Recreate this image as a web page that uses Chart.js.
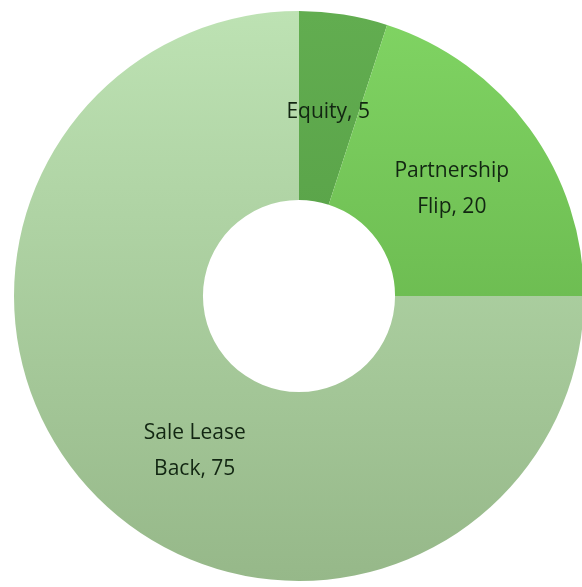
<!DOCTYPE html>
<html>
<head>
<meta charset="utf-8">
<script src="https://cdn.jsdelivr.net/npm/chart.js@4.4.0/dist/chart.umd.min.js"></script>
<style>
  html, body { margin: 0; padding: 0; background: #fff; overflow: hidden; }
  #wrap { position: relative; width: 598px; height: 592px; }
</style>
</head>
<body>
<div id="wrap"><canvas id="donut"></canvas></div>
<script>
// Dados do gráfico
const categorias = ['Equity', 'Partnership Flip', 'Sale Lease Back'];
const valores = [5, 20, 75];
// Rótulos em duas linhas, como no original
const rotulos = [['Equity, 5'], ['Partnership', 'Flip, 20'], ['Sale Lease', 'Back, 75']];
// Cores (topo -> base) de cada fatia
const coresTopo = ['#62ad50', '#80d463', '#bde2b3'];
const coresBase = ['#4e963f', '#5ca742', '#96b889'];

// Gradiente vertical por fatia, estilo Excel
function gradiente(ctx) {
    const chart = ctx.chart;
    const area = chart.chartArea;
    if (!area) return coresTopo[ctx.dataIndex];
    const g = chart.ctx.createLinearGradient(0, area.top, 0, area.bottom);
    g.addColorStop(0, coresTopo[ctx.dataIndex]);
    g.addColorStop(1, coresBase[ctx.dataIndex]);
    return g;
}

// Plugin simples para escrever os rótulos dentro das fatias
const pluginRotulos = {
    id: 'rotulos',
    afterDatasetsDraw(chart, args, opts) {
        const ctx = chart.ctx;
        const meta = chart.getDatasetMeta(0);
        ctx.save();
        ctx.font = opts.font;
        ctx.fillStyle = opts.color;
        ctx.textAlign = 'center';
        ctx.textBaseline = 'middle';
        meta.data.forEach((arc, i) => {
            const p = arc.getProps(['x', 'y', 'startAngle', 'endAngle', 'innerRadius', 'outerRadius']);
            const ang = (p.startAngle + p.endAngle) / 2 + (opts.desvioAngulo[i] || 0) * Math.PI / 180;
            const r = (p.innerRadius + p.outerRadius) / 2 - 4;
            const cx = p.x + Math.cos(ang) * r;
            const cy = p.y + Math.sin(ang) * r;
            const linhas = rotulos[i];
            const alt = opts.alturaLinha;
            linhas.forEach((txt, k) => {
                ctx.fillText(txt, cx, cy + (k - (linhas.length - 1) / 2) * alt);
            });
        });
        ctx.restore();
    }
};

new Chart(document.getElementById('donut'), {
    type: 'doughnut',
    data: {
        labels: categorias,
        datasets: [{
            data: valores,
            backgroundColor: gradiente,
            borderWidth: 0,
            hoverOffset: 0
        }]
    },
    options: {
        responsive: true,
        maintainAspectRatio: false,
        animation: false,
        cutout: '33.7%',
        layout: { padding: 11 },
        plugins: {
            legend: { display: false },
            tooltip: { enabled: false },
            rotulos: {
                font: '21px "Open Sans", Lato, sans-serif',
                color: '#122612',
                alturaLinha: 36,
                desvioAngulo: [0, 1, -11]
            }
        }
    },
    plugins: [pluginRotulos]
});
</script>
</body>
</html>
